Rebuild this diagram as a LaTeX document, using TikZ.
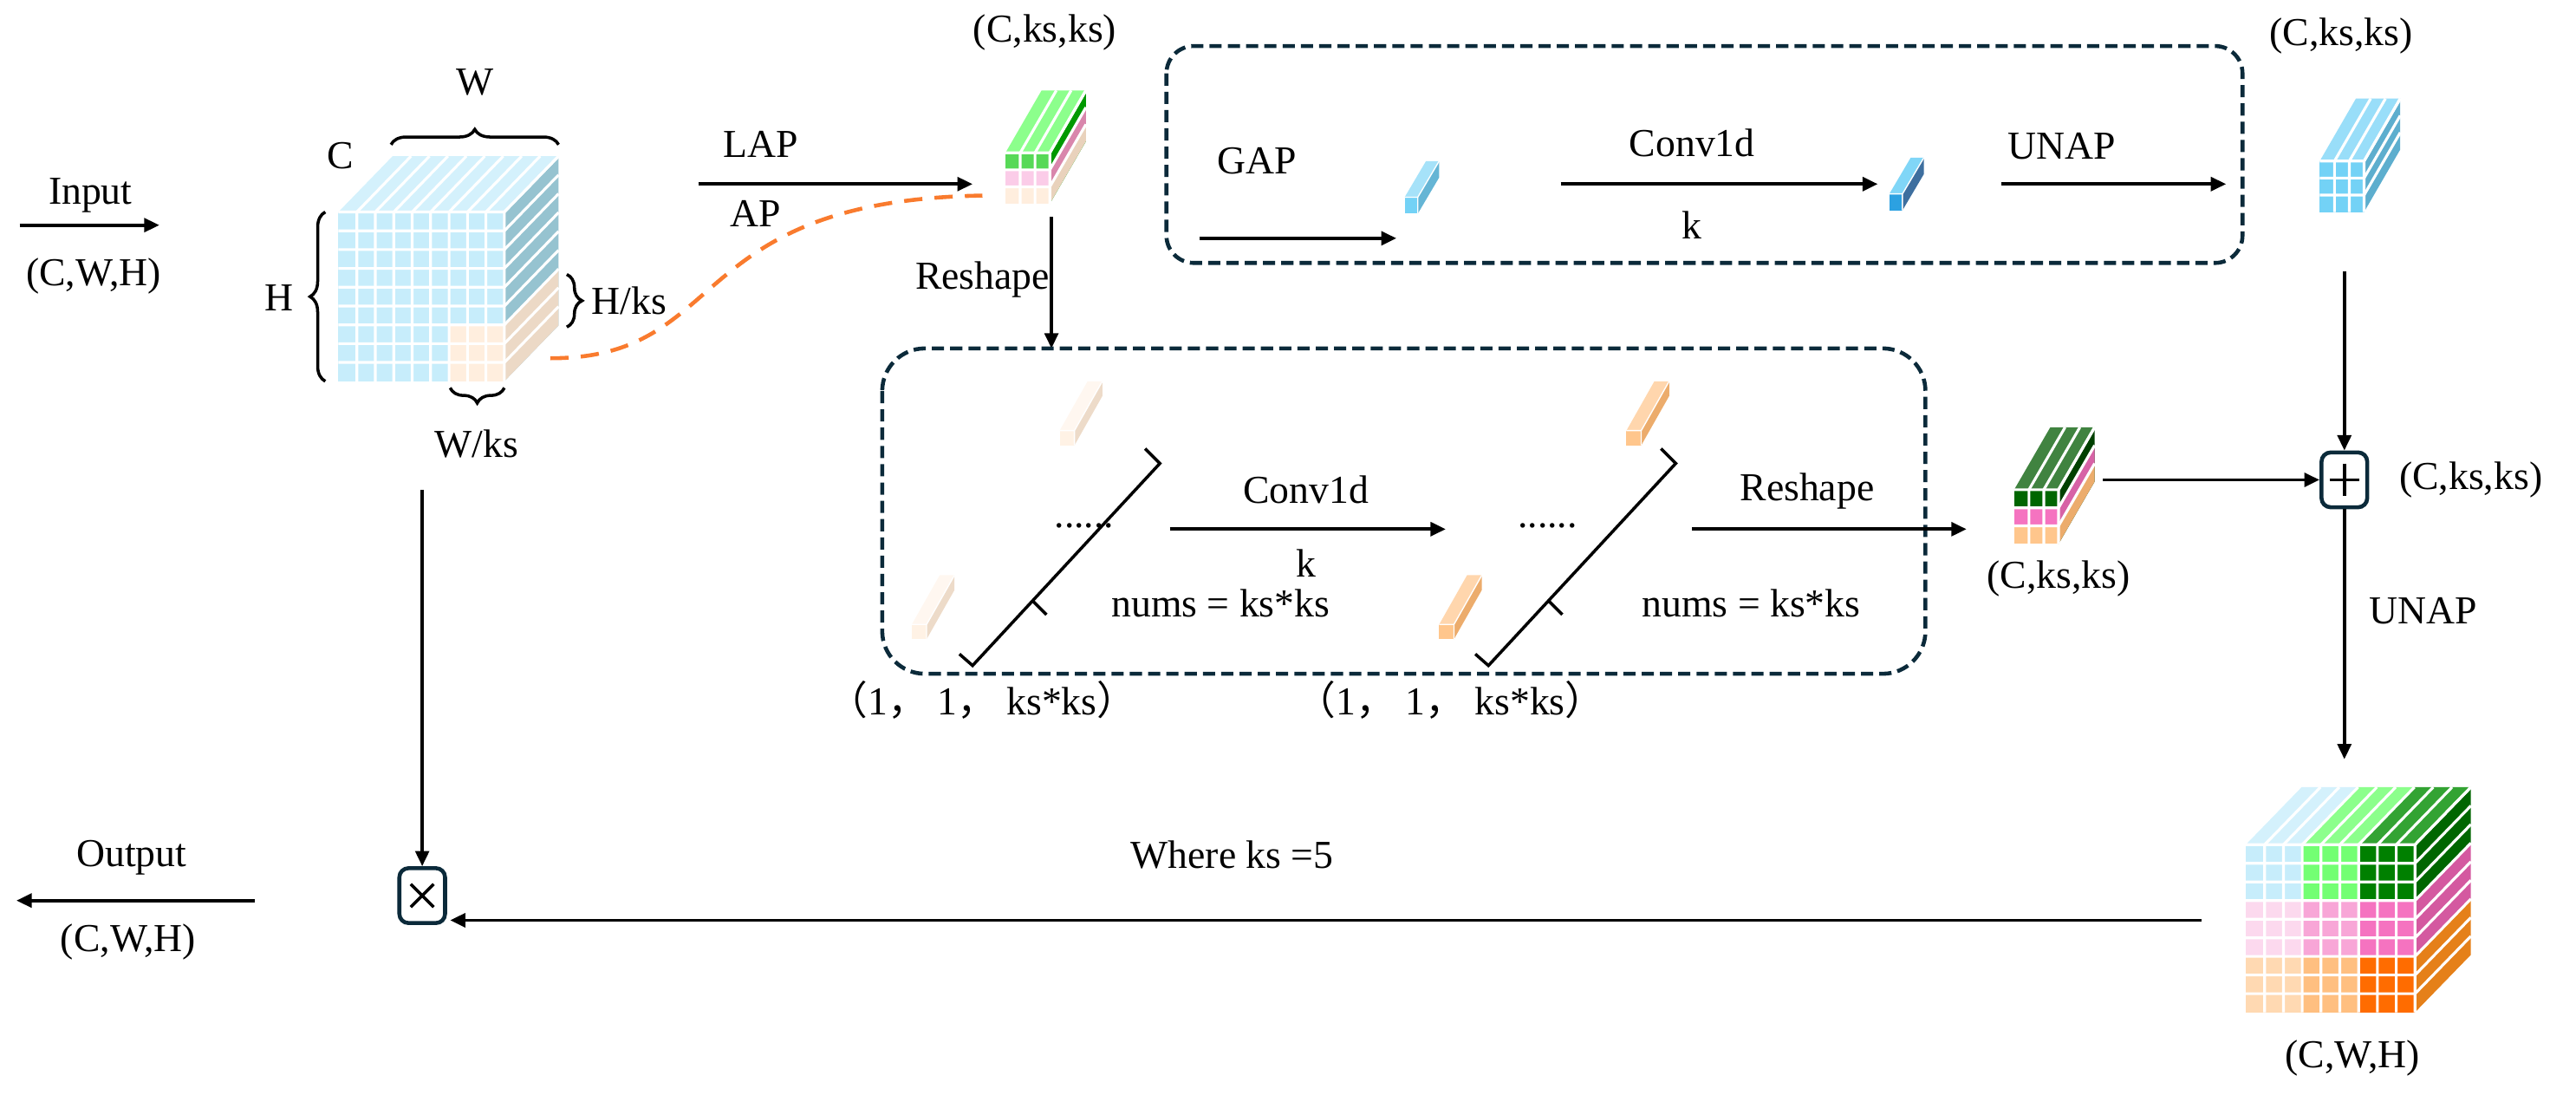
\documentclass[tikz,border=0pt]{standalone}
\usepackage{fontspec}
\setmainfont{Liberation Serif}
\newfontfamily\cjk{Noto Sans CJK SC}
\usetikzlibrary{arrows.meta,decorations.pathreplacing}
\definecolor{boxc}{HTML}{0B2A3A}
\definecolor{orng}{HTML}{F97B2E}
\definecolor{sideblue}{HTML}{96C3D0}
\newcommand\cubefaces[9]{%
 \fill[#7] (#1,#2) rectangle (#1+#3,#2+#4);
 \fill[#8] (#1,#2)--(#1+#3,#2)--(#1+#3+#5,#2-#6)--(#1+#5,#2-#6)--cycle;
 \fill[#9] (#1+#3,#2)--(#1+#3+#5,#2-#6)--(#1+#3+#5,#2+#4-#6)--(#1+#3,#2+#4)--cycle;}
\newcommand\cgrid[8]{%
 \foreach \i in {1,...,#7}{\draw[white,gl] (#1+\i*#3/#7,#2+#4)--(#1+\i*#3/#7,#2)--++(#5,-#6);}
 \foreach \j in {0,...,\numexpr#8-1\relax}{\draw[white,gl] (#1,#2+\j*#4/#8)--(#1+#3,#2+\j*#4/#8)--++(#5,-#6);}}
\newcommand\ftop[6]{\fill[#1] (#2,#4)--(#3,#4)--++(#5,-#6)--(#2+#5,#4-#6)--cycle;}
\newcommand\fside[6]{\fill[#1] (#2,#3)--(#2+#5,#3-#6)--(#2+#5,#4-#6)--(#2,#4)--cycle;}
\newcommand\rod[9]{\cubefaces{#1}{#2}{#3}{#4}{#5}{#6}{#7}{#8}{#9}
 \draw[white,line width=0.4pt] (#1,#2)--(#1+#3,#2)--(#1+#3,#2+#4) (#1+#3,#2)--++(#5,-#6);}
\newcommand\lbl[3]{\node[txt] (#1) at (#2) {#3};}
\begin{document}
\begin{tikzpicture}[x=0.01895cm,y=-0.01895cm,
 txt/.style={font=\fontsize{13}{15}\selectfont,inner sep=1pt},
 arr/.style={-{Triangle[length=5pt,width=4.5pt]},line width=1.1pt},
 gl/.style={line width=0.9pt},
 dbox/.style={draw=boxc,dashed,dash pattern=on 4pt off 2pt,line width=1.3pt,rounded corners=9pt},
 brc/.style={decorate,decoration={brace,amplitude=5pt},line width=1pt},
 opbox/.style={draw=boxc,line width=1.3pt,rounded corners=3pt,minimum width=15pt,minimum height=18pt,inner sep=0pt}]
\useasboundingbox (0,0) rectangle (1568,666);

% ---------- input
\coordinate (inS) at (12,137); \coordinate (inE) at (97,137);
\draw[arr] (inS)--(inE);
\lbl{inl}{55,119}{Input}
\lbl{inshape}{57,168}{(C,W,H)}

% ---------- main cube
\cubefaces{206}{129}{101}{103}{33}{34}{cyan!22!white}{cyan!17!white}{sideblue}
\fill[orange!13!white] (206+67.33,129+68.67) rectangle (307,232);
\fside{brown!30!white}{307}{129+68.67}{232}{33}{34}
\cgrid{206}{129}{101}{103}{33}{34}{9}{9}
\coordinate (cubeC) at (256,180);
\draw[brc] (238,88)--(340,88);
\lbl{W}{289,50}{W}
\lbl{C}{207,95}{C}
\draw[brc] (198,232)--(198,129);
\lbl{H}{170,181}{H}
\draw[brc] (345,167)--(345,199);
\lbl{Hks}{383,183}{H/ks}
\draw[brc] (307,236)--(274,236);
\lbl{Wks}{290,270}{W/ks}

% ---------- LAP / AP
\coordinate (lapS) at (425,112); \coordinate (lapE) at (592,112);
\draw[arr] (lapS)--(lapE);
\lbl{lap}{463,88}{LAP}
\lbl{ap}{460,130}{AP}
\coordinate (apS) at (335,218); \coordinate (apE) at (598,119);
\draw[orng,line width=1.3pt,dash pattern=on 6pt off 4pt] (apS) .. controls (445,218) and (415,122) .. (apE);

% ---------- small LAP cube
\cubefaces{612}{93}{27}{31}{22}{38}{green!60!black!20!green!65!white}{green!45!white}{green!60!black}
\fill[magenta!20!white] (612,103.33) rectangle (639,124);
\fill[orange!13!white] (612,113.67) rectangle (639,124);
\fside{violet!30!pink}{639}{103.33}{113.67}{22}{38}
\fside{brown!35!white}{639}{113.67}{124}{22}{38}
\fill[green!60!white!85!black] (612,93) rectangle (639,103.33);
\cgrid{612}{93}{27}{31}{22}{38}{3}{3}
\lbl{lapshape}{636,20}{(C,ks,ks)}
\coordinate (lapC) at (640,132);

% ---------- reshape down
\coordinate (rsE) at (640,212);
\draw[arr,line width=1pt] (lapC)--(rsE);
\lbl{rsl}{598,170}{Reshape}

% ---------- top dashed box
\draw[dbox] (710,28) rectangle (1365,160);
\coordinate (gapS) at (730,145); \coordinate (gapE) at (850,145);
\draw[arr] (gapS)--(gapE);
\lbl{gap}{765,98}{GAP}
\rod{855}{120}{8}{10}{13}{22}{cyan!55!white}{cyan!35!white}{cyan!55!teal!70!white}
\coordinate (c1S) at (950,112); \coordinate (c1E) at (1143,112);
\draw[arr] (c1S)--(c1E);
\lbl{cv1}{1030,87}{Conv1d}
\lbl{k1}{1030,137}{k}
\rod{1150}{118}{8}{10}{13}{22}{cyan!80!blue!85!white}{cyan!50!white}{cyan!60!blue!70!black}
\coordinate (unS) at (1218,112); \coordinate (unE) at (1355,112);
\draw[arr] (unS)--(unE);
\lbl{unap1}{1255,89}{UNAP}

% ---------- right blue cube
\cubefaces{1412}{98}{27}{31}{22}{38}{cyan!55!white}{cyan!40!white}{cyan!50!teal!75!white}
\cgrid{1412}{98}{27}{31}{22}{38}{3}{3}
\lbl{bshape}{1425,22}{(C,ks,ks)}
\coordinate (bS) at (1427,165);

% ---------- plus
\node[opbox] (plus) at (1427,292) {};
\draw[line width=1pt] (1418,292)--(1436,292) (1427,282)--(1427,302);
\draw[arr,line width=1pt] (bS)--(plus.north);
\lbl{pshape}{1504,292}{(C,ks,ks)}

% ---------- middle dashed box
\draw[dbox,rounded corners=14pt] (537,212) rectangle (1172,410);
\rod{645}{262}{9}{9}{17}{30}{orange!10!white}{orange!6!white}{brown!28!white}
\rod{555}{380}{9}{9}{17}{30}{orange!10!white}{orange!6!white}{brown!28!white}
\lbl{dots1}{660,320}{......}
\draw[line width=1pt] (697,273)--(706,282)--(592,405)--(584,398) (628,365)--(637,374);
\coordinate (c2S) at (712,322); \coordinate (c2E) at (880,322);
\draw[arr] (c2S)--(c2E);
\lbl{cv2}{795,298}{Conv1d}
\lbl{k2}{795,343}{k}
\lbl{nums1}{743,367}{nums = ks*ks}
\rod{990}{262}{9}{9}{17}{30}{orange!45!white}{orange!32!white}{orange!55!brown!65!white}
\rod{876}{380}{9}{9}{17}{30}{orange!45!white}{orange!32!white}{orange!55!brown!65!white}
\lbl{dots2}{942,320}{......}
\draw[line width=1pt] (1011,273)--(1020,282)--(906,405)--(898,398) (942,365)--(951,374);
\lbl{nums2}{1066,367}{nums = ks*ks}
\coordinate (r2S) at (1030,322); \coordinate (r2E) at (1197,322);
\draw[arr] (r2S)--(r2E);
\lbl{rs2}{1100,299}{Reshape}
\lbl{sh1}{598,426}{{\cjk （}1{\cjk ，} 1{\cjk ，} ks*ks{\cjk ）}}
\lbl{sh2}{883,426}{{\cjk （}1{\cjk ，} 1{\cjk ，} ks*ks{\cjk ）}}

% ---------- reshape output cube
\def\rx{1226}\def\ry{298}
\cubefaces{\rx}{\ry}{27}{33}{22}{38}{green!40!black}{green!35!black!75!white}{green!25!black}
\fill[magenta!55!white] (\rx,\ry+11) rectangle (\rx+27,\ry+33);
\fill[orange!45!white] (\rx,\ry+22) rectangle (\rx+27,\ry+33);
\fside{magenta!60!violet!70!white}{\rx+27}{\ry+11}{\ry+22}{22}{38}
\fside{orange!55!brown!65!white}{\rx+27}{\ry+22}{\ry+33}{22}{38}
\cgrid{\rx}{\ry}{27}{33}{22}{38}{3}{3}
\lbl{rshape}{1253,352}{(C,ks,ks)}
\coordinate (rcS) at (1280,292);
\draw[arr] (rcS)--(plus.west);

% ---------- UNAP down
\coordinate (udE) at (1427,462);
\draw[arr,line width=1pt] (plus.south)--(udE);
\lbl{unap2}{1475,372}{UNAP}

% ---------- big cube
\def\bx{1367}\def\by{514}
\foreach \c/\cl in {0/cyan!22!white,1/green!55!white,2/green!50!black} {\fill[\cl] (\bx+\c*34.33,\by) rectangle (\bx+\c*34.33+34.33,\by+34);}
\foreach \c/\cl in {0/magenta!15!white,1/magenta!35!white,2/magenta!55!white} {\fill[\cl] (\bx+\c*34.33,\by+34) rectangle (\bx+\c*34.33+34.33,\by+68);}
\foreach \c/\cl in {0/orange!30!white,1/orange!50!white,2/orange!85!red} {\fill[\cl] (\bx+\c*34.33,\by+68) rectangle (\bx+\c*34.33+34.33,\by+102);}
\ftop{cyan!17!white}{\bx}{\bx+34.33}{\by}{34}{35}
\ftop{green!45!white}{\bx+34.33}{\bx+68.67}{\by}{34}{35}
\ftop{green!55!black!80!white}{\bx+68.67}{\bx+103}{\by}{34}{35}
\fside{green!40!black}{\bx+103}{\by}{\by+34}{34}{35}
\fside{magenta!60!violet!75!white}{\bx+103}{\by+34}{\by+68}{34}{35}
\fside{orange!60!brown}{\bx+103}{\by+68}{\by+102}{34}{35}
\cgrid{\bx}{\by}{103}{102}{34}{35}{9}{9}
\lbl{bigshape}{1432,644}{(C,W,H)}
\coordinate (bcS) at (1340,560);

% ---------- multiply
\node[opbox] (mul) at (257,545) {};
\draw[line width=1pt] (250,538)--(264,552) (264,538)--(250,552);
\coordinate (cdS) at (257,298);
\draw[arr,line width=1pt] (cdS)--(mul.north);
\draw[arr] (bcS)--(274,560);
\lbl{where}{750,520}{Where ks =5}

% ---------- output
\coordinate (outS) at (155,548); \coordinate (outE) at (10,548);
\draw[arr] (outS)--(outE);
\lbl{outl}{80,522}{Output}
\lbl{outshape}{78,573}{(C,W,H)}
\end{tikzpicture}
\end{document}
